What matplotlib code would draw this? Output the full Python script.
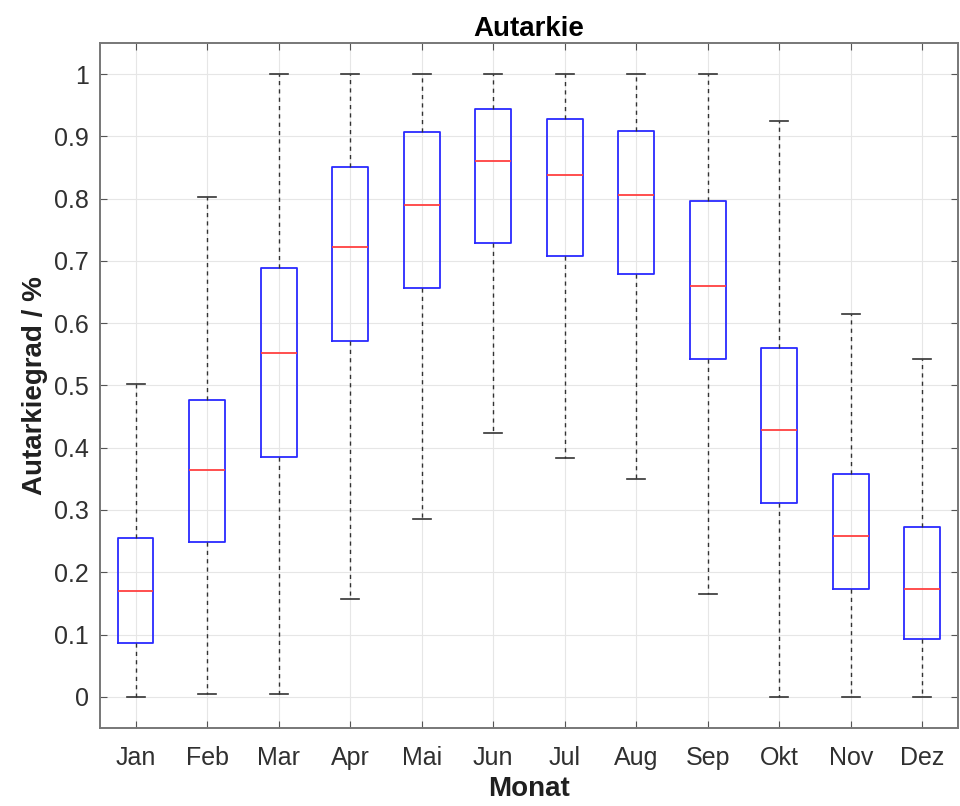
import matplotlib
matplotlib.use('Agg')
import matplotlib.pyplot as plt

plt.rcParams['font.family'] = ['Liberation Sans', 'DejaVu Sans']

months = ['Jan', 'Feb', 'Mar', 'Apr', 'Mai', 'Jun', 'Jul', 'Aug', 'Sep', 'Okt', 'Nov', 'Dez']
whislo = [0.0, 0.005, 0.005, 0.157, 0.285, 0.423, 0.383, 0.349, 0.165, 0.0, 0.0, 0.0]
q1 = [0.087, 0.248, 0.385, 0.571, 0.657, 0.728, 0.708, 0.679, 0.543, 0.311, 0.173, 0.093]
med = [0.170, 0.365, 0.552, 0.723, 0.790, 0.861, 0.838, 0.805, 0.660, 0.428, 0.259, 0.173]
q3 = [0.255, 0.477, 0.688, 0.850, 0.907, 0.944, 0.927, 0.909, 0.796, 0.560, 0.357, 0.272]
whishi = [0.503, 0.803, 1.0, 1.0, 1.0, 1.0, 1.0, 1.0, 1.0, 0.924, 0.615, 0.543]

stats = []
for i, m in enumerate(months):
    stats.append({'label': m, 'whislo': whislo[i], 'q1': q1[i], 'med': med[i],
                  'q3': q3[i], 'whishi': whishi[i], 'fliers': []})

fig = plt.figure(figsize=(9.6, 8.06), dpi=100)
ax = fig.add_axes([0.104, 0.0968, 0.894, 0.85])

ax.bxp(stats, positions=range(1, 13), widths=0.5, showfliers=False,
       boxprops=dict(color='#2a2aff', linewidth=1.3),
       medianprops=dict(color='#ff4040', linewidth=1.3),
       whiskerprops=dict(color='#333333', linestyle=(0, (3, 3)), linewidth=1.0),
       capprops=dict(color='#333333', linewidth=1.2),
       capwidths=0.25)

ax.set_xlim(0.5, 12.5)
ax.set_ylim(-0.05, 1.05)
ax.set_yticks([i / 10 for i in range(11)])
ax.set_yticklabels(['0', '0.1', '0.2', '0.3', '0.4', '0.5', '0.6', '0.7', '0.8', '0.9', '1'])
ax.set_xticks(range(1, 13))
ax.set_xticklabels(months)
ax.grid(True, color='#e6e6e6', linewidth=0.8)
ax.set_axisbelow(True)
ax.tick_params(direction='in', top=True, right=True, labelsize=18, length=5,
               color='#555555', labelcolor='#303030')
ax.tick_params(axis='x', pad=13)
ax.tick_params(axis='y', pad=8)
for s in ax.spines.values():
    s.set_color('#777777')
    s.set_linewidth(1.4)

ax.set_title('Autarkie', fontsize=20, fontweight='bold', pad=5)
ax.set_xlabel('Monat', fontsize=20, fontweight='bold', labelpad=4, color='#202020')
ax.set_ylabel('Autarkiegrad / %', fontsize=20, fontweight='bold', labelpad=4, color='#202020')

fig.savefig('out.png', dpi=100)
